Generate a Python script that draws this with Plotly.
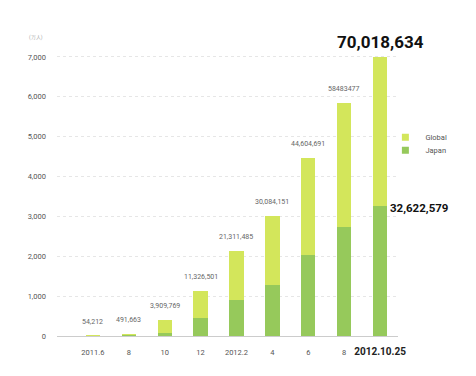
import plotly.graph_objects as go

categories = ["2011.6", "8", "10", "12", "2012.2", "4", "6", "8", "2012.10.25"]
tick_labels = ["2011.6", "8", "10", "12", "2012.2", "4", "6", "8",
               "<b><span style='color:#222;font-size:10px'>2012.10.25</span></b>"]
japan = [3, 25, 65, 447, 898, 1292, 2037, 2747, 3262.2579]
total = [5.4212, 49.1663, 390.9769, 1132.6501, 2131.1485, 3008.4151, 4460.4691, 5848.3477, 7001.8634]
global_ = [t - j for t, j in zip(total, japan)]
total_labels = ["54,212", "491,663", "3,909,769", "11,326,501", "21,311,485",
                "30,084,151", "44,604,691", "58483477", ""]
big_total_label = "70,018,634"
big_japan_label = "32,622,579"

pos = list(range(len(categories)))
c_japan = "#96c95b"
c_global = "#d3e65b"

fig = go.Figure()
fig.add_trace(go.Bar(x=pos, y=japan, name="Japan", marker_color=c_japan,
                     width=0.4, marker_line_width=0, showlegend=False))
fig.add_trace(go.Bar(x=pos, y=global_, name="Global", marker_color=c_global,
                     width=0.4, marker_line_width=0, showlegend=False))
# legend entries
fig.add_trace(go.Scatter(x=[None], y=[None], mode="markers", name="Global",
                         marker=dict(symbol="square", size=7, color=c_global), legend="legend"))
fig.add_trace(go.Scatter(x=[None], y=[None], mode="markers", name="Japan",
                         marker=dict(symbol="square", size=7, color=c_japan), legend="legend2"))

for p, t, lab in zip(pos, total, total_labels):
    if lab:
        fig.add_annotation(x=p, y=t, text=lab, showarrow=False, yanchor="bottom",
                           yshift=8, font=dict(size=7, color="#666"))
fig.add_annotation(x=pos[-1], y=total[-1], text="<b>" + big_total_label + "</b>",
                   showarrow=False, yanchor="bottom", yshift=3,
                   font=dict(size=17, color="#111"))
fig.add_annotation(x=pos[-1], y=japan[-1], text="<b>" + big_japan_label + "</b>",
                   showarrow=False, xanchor="left", xshift=8, yanchor="middle", yshift=-2,
                   font=dict(size=11.5, color="#111"))
fig.add_annotation(xref="paper", yref="paper", x=-0.035, y=1.045, text="(万人)",
                   showarrow=False, xanchor="right", font=dict(size=5, color="#aaa"))

leg_common = dict(xanchor="left", yanchor="middle", font=dict(size=7.5, color="#555"),
                  itemwidth=30, bgcolor="rgba(0,0,0,0)", itemsizing="trace")

fig.update_layout(
    width=468, height=368,
    margin=dict(l=49, r=78, t=37, b=39.5),
    barmode="stack",
    paper_bgcolor="white", plot_bgcolor="white",
    font=dict(family="Roboto", color="#555"),
    showlegend=True,
    legend=dict(x=0.963, y=0.683, **leg_common),
    legend2=dict(x=0.963, y=0.638, **leg_common),
    xaxis=dict(range=[-1.0, 8.5], tickmode="array",
               tickvals=pos, ticktext=tick_labels, showgrid=False, zeroline=False,
               ticks="", tickfont=dict(size=7.5, color="#555"), showline=False,
               ticklabelstandoff=10),
    yaxis=dict(range=[0, 7300], tickvals=[0, 1000, 2000, 3000, 4000, 5000, 6000, 7000],
               ticktext=["0", "1,000", "2,000", "3,000", "4,000", "5,000", "6,000", "7,000"],
               showgrid=True, gridcolor="#e6e6e6", griddash="dot", gridwidth=1,
               zeroline=True, zerolinecolor="#cccccc", zerolinewidth=1,
               tickfont=dict(size=7.5, color="#555"), ticks="", ticklabelstandoff=10),
)

fig.write_html("out.html")
